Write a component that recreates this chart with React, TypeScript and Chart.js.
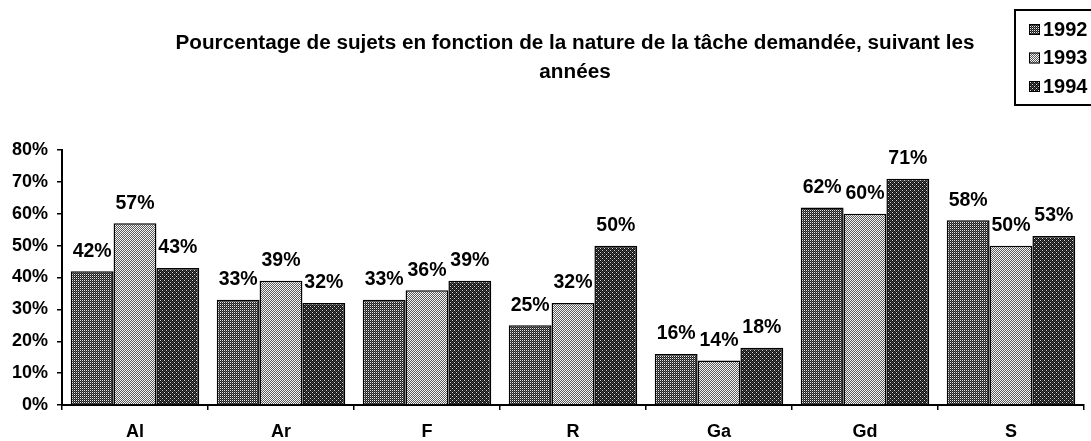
import React, { useEffect, useRef } from "react";
import { Chart, registerables } from "chart.js";

Chart.register(...registerables);

const categories = ["Al", "Ar", "F", "R", "Ga", "Gd", "S"];
const years = ["1992", "1993", "1994"];
const values1992 = [42, 33, 33, 25, 16, 62, 58];
const values1993 = [57, 39, 36, 32, 14, 60, 50];
const values1994 = [43, 32, 39, 50, 18, 71, 53];
const yTicks = [0, 10, 20, 30, 40, 50, 60, 70, 80];
const titleLines = [
  "Pourcentage de sujets en fonction de la nature de la tâche demandée, suivant les",
  "années",
];

const FONT = "'Liberation Sans', Arial, sans-serif";

function makePattern(kind: number): CanvasPattern | string {
  const c = document.createElement("canvas");
  c.width = 4;
  c.height = 4;
  const g = c.getContext("2d");
  if (!g) return "#666";
  const img = g.createImageData(4, 4);
  for (let y = 0; y < 4; y++) {
    for (let x = 0; x < 4; x++) {
      let v = 0;
      if (kind === 0) {
        v = x % 2 === 0 && y % 2 === 0 ? 235 : (x + y) % 2 === 0 ? 90 : 30;
      } else if (kind === 1) {
        v = (x + y) % 2 === 0 ? 245 : 90;
      } else {
        v = x % 2 === 0 && y % 2 === 0 && (x + y) % 4 === 0 ? 220 : (x + y) % 2 === 0 ? 70 : 15;
      }
      const i = (y * 4 + x) * 4;
      img.data[i] = v;
      img.data[i + 1] = v;
      img.data[i + 2] = v;
      img.data[i + 3] = 255;
    }
  }
  g.putImageData(img, 0, 0);
  const ctx = document.createElement("canvas").getContext("2d");
  return (ctx && ctx.createPattern(c, "repeat")) || "#666";
}

export default function App() {
  const ref = useRef<HTMLCanvasElement>(null);

  useEffect(() => {
    if (!ref.current) return;
    const patterns = [makePattern(0), makePattern(1), makePattern(2)];
    const seriesValues = [values1992, values1993, values1994];

    const overlay = {
      id: "overlay",
      afterDatasetsDraw(chart: any) {
        const ctx = chart.ctx;
        ctx.save();
        ctx.font = `bold 19.5px ${FONT}`;
        ctx.fillStyle = "#000";
        ctx.textAlign = "center";
        ctx.textBaseline = "middle";
        chart.data.datasets.forEach((ds: any, di: number) => {
          const meta = chart.getDatasetMeta(di);
          meta.data.forEach((bar: any, i: number) => {
            ctx.fillText(`${ds.data[i]}%`, bar.x, bar.y - 20);
          });
        });
        ctx.restore();
      },
      afterDraw(chart: any) {
        const ctx = chart.ctx;
        ctx.save();
        ctx.font = `bold 20.7px ${FONT}`;
        ctx.fillStyle = "#000";
        ctx.textAlign = "center";
        ctx.textBaseline = "middle";
        titleLines.forEach((t, i) => ctx.fillText(t, 575, 43 + i * 29));
        ctx.lineWidth = 2;
        ctx.strokeStyle = "#000";
        ctx.strokeRect(1015, 10, 100, 95);
        ctx.textAlign = "left";
        ctx.font = `bold 20px ${FONT}`;
        chart.data.datasets.forEach((ds: any, di: number) => {
          const cy = 29 + di * 28.5;
          ctx.fillStyle = ds.backgroundColor;
          ctx.fillRect(1029, cy - 5, 11, 11);
          ctx.lineWidth = 1;
          ctx.strokeRect(1029.5, cy - 4.5, 10, 10);
          ctx.fillStyle = "#000";
          ctx.fillText(ds.label, 1043, cy + 1);
        });
        ctx.restore();
      },
    };

    const chart = new Chart(ref.current, {
      type: "bar",
      data: {
        labels: categories,
        datasets: years.map((y, i) => ({
          label: y,
          data: seriesValues[i],
          backgroundColor: patterns[i] as any,
          borderColor: "#000",
          borderWidth: 1.5,
          categoryPercentage: 0.88,
          barPercentage: 1.0,
        })),
      },
      options: {
        responsive: false,
        animation: false,
        layout: { padding: { top: 150, left: 0, right: 7, bottom: 0 } },
        plugins: {
          legend: { display: false },
          title: { display: false },
          tooltip: { enabled: false },
        },
        scales: {
          x: {
            afterFit(scale: any) {
              scale.height = 36;
              scale.paddingLeft = 0;
              scale.paddingRight = 0;
            },
            grid: {
              offset: true,
              drawOnChartArea: false,
              drawTicks: true,
              tickLength: 5,
              color: "#000",
              lineWidth: 1.5,
            },
            border: { display: true, color: "#000", width: 2 },
            ticks: {
              color: "#000",
              padding: 13,
              maxRotation: 0,
              font: { family: FONT, size: 18, weight: "bold", lineHeight: 1 },
            },
          },
          y: {
            min: 0,
            max: 80,
            afterFit(scale: any) {
              scale.width = 62;
              scale.paddingTop = 0;
              scale.paddingBottom = 0;
            },
            afterBuildTicks(scale: any) {
              scale.ticks = yTicks.map((v) => ({ value: v }));
            },
            grid: {
              drawOnChartArea: false,
              drawTicks: true,
              tickLength: 5,
              color: "#000",
              lineWidth: 1.5,
            },
            border: { display: true, color: "#000", width: 2 },
            ticks: {
              color: "#000",
              padding: 9,
              font: { family: FONT, size: 18, weight: "bold" },
              callback: (v: any) => `${v}%`,
            },
          },
        },
      },
      plugins: [overlay],
    });
    return () => chart.destroy();
  }, []);

  return (
    <div style={{ position: "absolute", left: 0, top: 0, width: 1091, height: 441, background: "#fff" }}>
      <canvas ref={ref} width={1091} height={441} />
    </div>
  );
}
